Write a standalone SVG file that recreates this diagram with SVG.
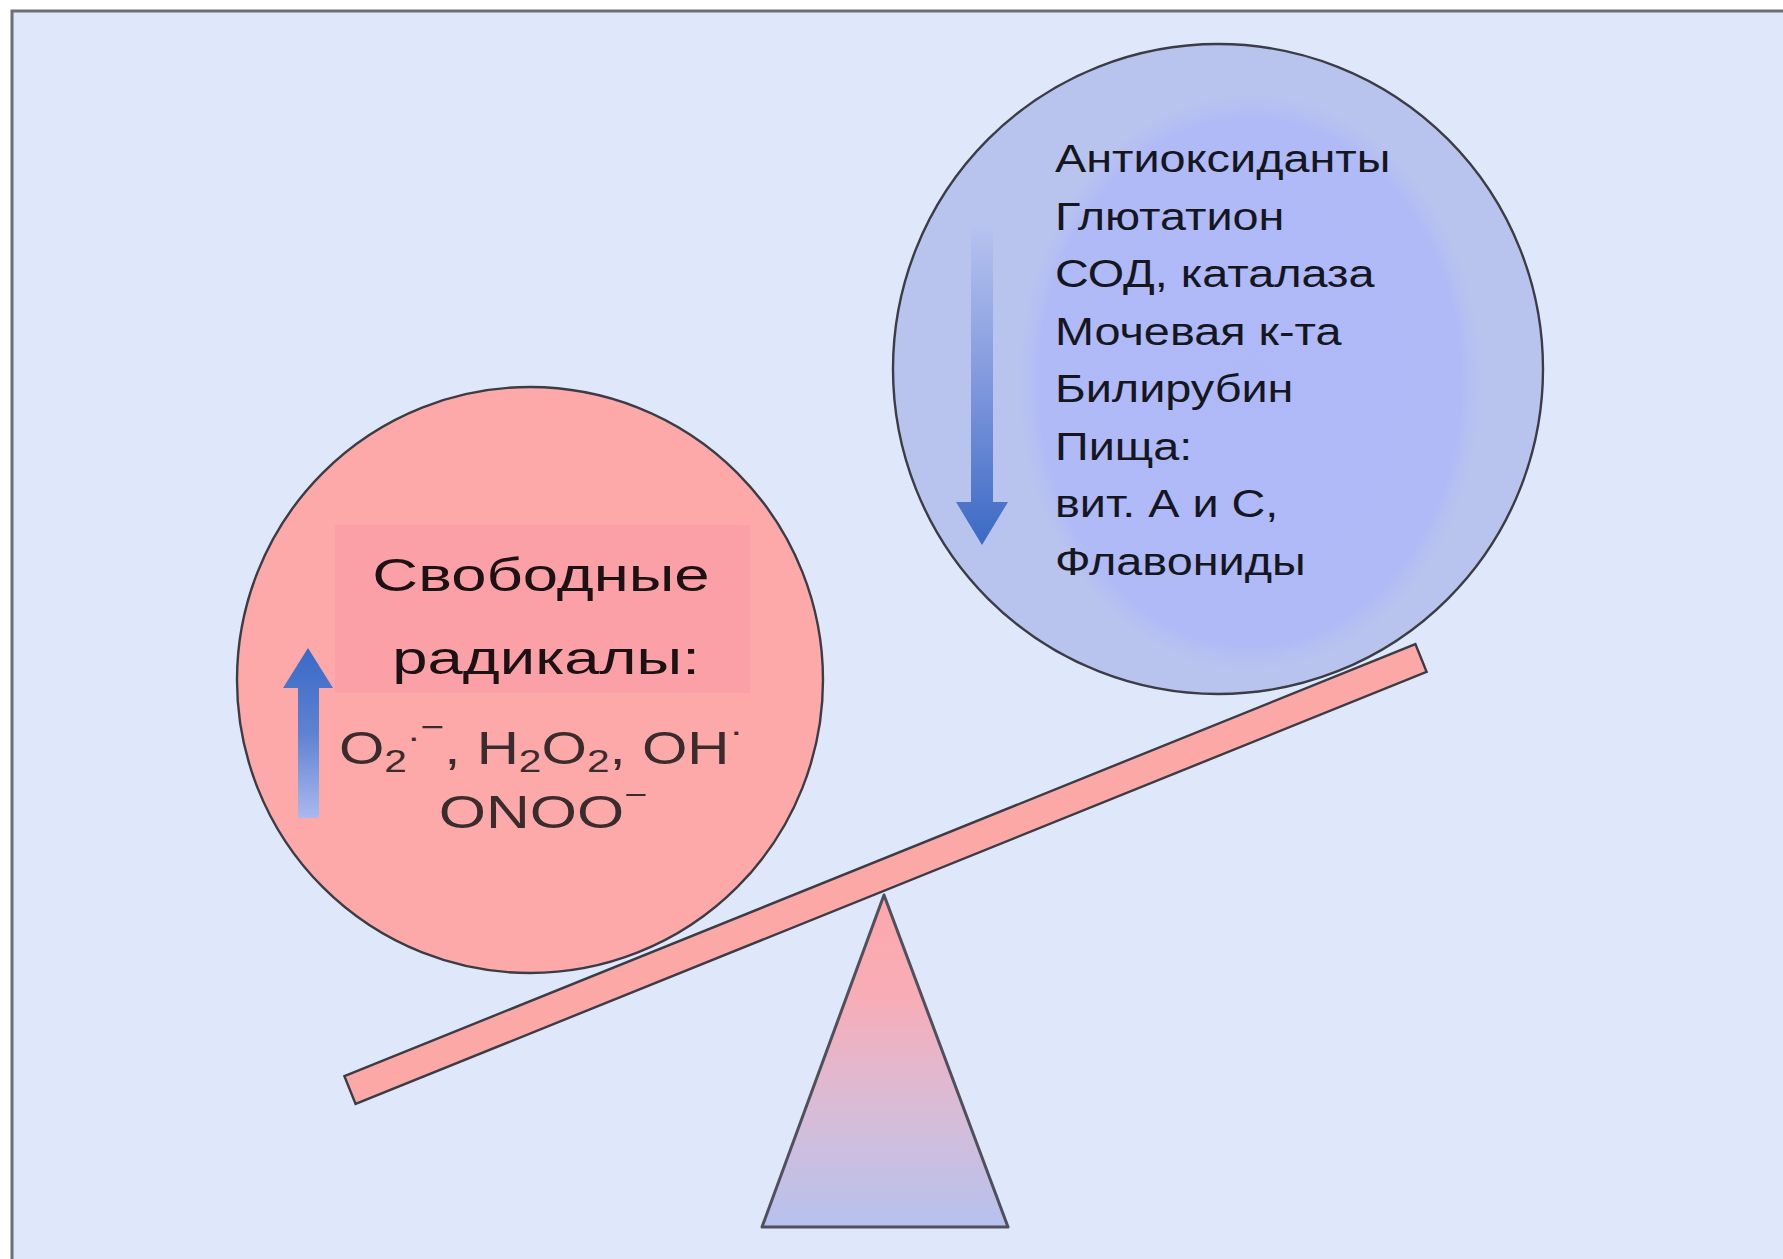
<svg xmlns="http://www.w3.org/2000/svg" width="1783" height="1259" viewBox="0 0 1783 1259">
  <defs>
    <linearGradient id="gUp" x1="0" y1="0" x2="0" y2="1">
      <stop offset="0" stop-color="#386ac6"/>
      <stop offset="0.5" stop-color="#5e82d2"/>
      <stop offset="1" stop-color="#aab9ee"/>
    </linearGradient>
    <linearGradient id="gDown" x1="0" y1="0" x2="0" y2="1">
      <stop offset="0" stop-color="#b7c3f0"/>
      <stop offset="0.5" stop-color="#7f98dc"/>
      <stop offset="1" stop-color="#3b69c4"/>
    </linearGradient>
    <linearGradient id="gTri" x1="0" y1="0" x2="0" y2="1">
      <stop offset="0" stop-color="#fda7ab"/>
      <stop offset="0.3" stop-color="#f8adb6"/>
      <stop offset="0.65" stop-color="#d8bcd8"/>
      <stop offset="1" stop-color="#b6c2ee"/>
    </linearGradient>
    <radialGradient id="gInner" cx="0.5" cy="0.5" r="0.5">
      <stop offset="0" stop-color="#afb9f8"/>
      <stop offset="0.88" stop-color="#b0baf7"/>
      <stop offset="1" stop-color="#b9c4ee" stop-opacity="0"/>
    </radialGradient>
    <clipPath id="blueClip">
      <circle cx="1218" cy="369" r="325"/>
    </clipPath>
    <style>
      .outline { stroke: #3c3c44; stroke-width: 2.4; }
      .red-text { font-family: "Liberation Sans", Arial, sans-serif; font-size: 47px; fill: #1c1214; }
      .formula { font-family: "Liberation Sans", Arial, sans-serif; font-size: 46px; fill: #3a2c2c; }
      .blue-text { font-family: "Liberation Sans", Arial, sans-serif; font-size: 39px; fill: #16161e; }
    </style>
  </defs>

  <!-- page and frame -->
  <rect x="0" y="0" width="1783" height="1259" fill="#ffffff"/>
  <rect x="12" y="11" width="1771" height="1248" fill="#dfe7fb"/>
  <path d="M12 1259 V11 H1783" fill="none" stroke="#6e6e74" stroke-width="3"/>

  <!-- fulcrum -->
  <g id="fulcrum">
    <polygon points="884,895 1008,1227 762,1227" fill="url(#gTri)" stroke="#50505c" stroke-width="3" stroke-linejoin="round"/>
  </g>

  <!-- beam -->
  <g id="beam">
    <polygon points="344.4,1076.1 1415.4,644.1 1426.6,671.9 355.6,1103.9" fill="#fba8a7" class="outline"/>
  </g>

  <!-- free radicals (left, heavier) -->
  <g id="free-radicals">
    <circle cx="530" cy="680" r="293" fill="#fda9a9" class="outline"/>
    <rect x="335" y="525" width="415" height="168" fill="#fba0a7"/>
    <path d="M298 818 V688 H283 L308 648 L333 688 H319 V818 Z" fill="url(#gUp)"/>
    <text class="red-text" text-anchor="middle" transform="translate(541,591) scale(1.35,1)">Свободные</text>
    <text class="red-text" text-anchor="middle" transform="translate(546,674) scale(1.35,1)">радикалы:</text>
    <text class="formula" text-anchor="middle" transform="translate(541,764) scale(1.27,1)">O<tspan font-size="32" dy="8">2</tspan><tspan font-size="32" dy="-24">·</tspan><tspan font-size="32" dy="-10">−</tspan><tspan dy="26">, H</tspan><tspan font-size="32" dy="8">2</tspan><tspan dy="-8">O</tspan><tspan font-size="32" dy="8">2</tspan><tspan dy="-8">, OH</tspan><tspan font-size="32" dy="-22">·</tspan></text>
    <text class="formula" text-anchor="middle" transform="translate(543,828) scale(1.32,1)">ONOO<tspan font-size="30" dy="-23">−</tspan></text>
  </g>

  <!-- antioxidants (right, lighter) -->
  <g id="antioxidants">
    <circle cx="1218" cy="369" r="325" fill="#b9c4ee"/>
    <ellipse cx="1250" cy="382" rx="240" ry="300" fill="url(#gInner)" clip-path="url(#blueClip)"/>
    <circle cx="1218" cy="369" r="325" fill="none" class="outline"/>
    <path d="M971 225 H993 V502 H1008 L982 545 L956 502 H971 Z" fill="url(#gDown)"/>
    <g class="blue-text" transform="translate(1055,0) scale(1.2,1)">
      <text x="0" y="172">Антиоксиданты</text>
      <text x="0" y="230">Глютатион</text>
      <text x="0" y="287">СОД, каталаза</text>
      <text x="0" y="345">Мочевая к-та</text>
      <text x="0" y="402">Билирубин</text>
      <text x="0" y="460">Пища:</text>
      <text x="0" y="517">вит. А и С,</text>
      <text x="0" y="575">Флавониды</text>
    </g>
  </g>
</svg>
